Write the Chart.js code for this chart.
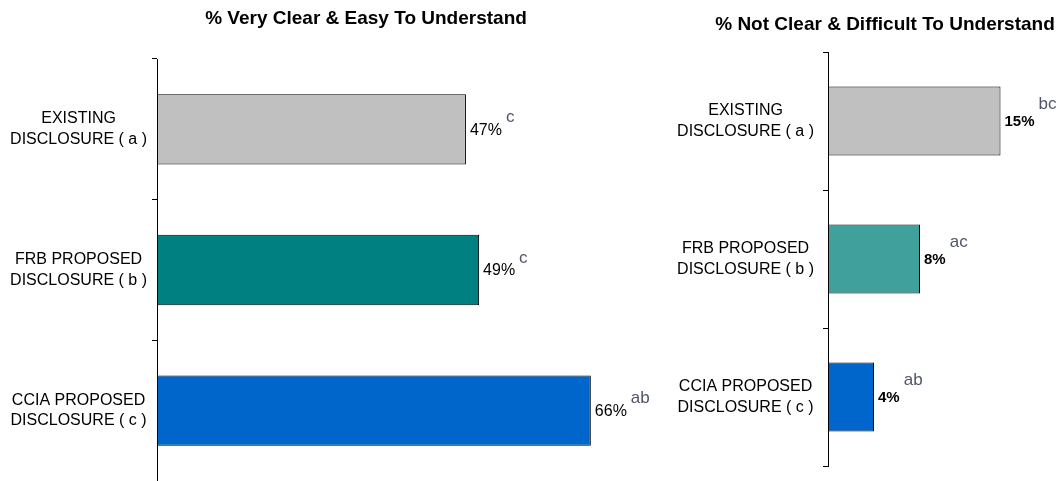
<!DOCTYPE html>
<html>
<head>
<meta charset="utf-8">
<script src="https://cdn.jsdelivr.net/npm/chart.js@4.4.1/dist/chart.umd.min.js"></script>
<style>
  body { margin: 0; background: #fff; }
  #wrap { position: relative; width: 1063px; height: 481px; }
  .box { position: absolute; top: 0; height: 481px; }
</style>
</head>
<body>
<div id="wrap">
  <div class="box" style="left:0;width:660px"><canvas id="clear_chart"></canvas></div>
  <div class="box" style="left:660px;width:403px"><canvas id="unclear_chart"></canvas></div>
</div>
<script>
let categories = [
  ['EXISTING', 'DISCLOSURE ( a )'],
  ['FRB PROPOSED', 'DISCLOSURE ( b )'],
  ['CCIA PROPOSED', 'DISCLOSURE ( c )']
];
let clearValues = [47, 49, 66];
let clearSig = ['c', 'c', 'ab'];
let unclearValues = [15, 8, 4];
let unclearSig = ['bc', 'ac', 'ab'];

let fontFamily = '"Liberation Sans", Arial, sans-serif';

// value label + significance letters next to each bar, and the panel title
let barLabels = {
  id: 'barLabels',
  afterDatasetsDraw(chart, args, opts) {
    let ctx = chart.ctx;
    let meta = chart.getDatasetMeta(0);
    ctx.save();
    meta.data.forEach((bar, i) => {
      let txt = chart.data.datasets[0].data[i] + '%';
      ctx.font = opts.valueFont + ' ' + fontFamily;
      ctx.fillStyle = '#000';
      ctx.textAlign = 'left';
      ctx.textBaseline = 'middle';
      let x = bar.x + 4;
      ctx.fillText(txt, x, bar.y + 1);
      let w = ctx.measureText(txt).width;
      ctx.font = '17px ' + fontFamily;
      ctx.fillStyle = '#4f5666';
      ctx.fillText(opts.sig[i], x + w + 4, bar.y + opts.sigDy);
    });
    ctx.font = 'bold 19px ' + fontFamily;
    ctx.fillStyle = '#000';
    ctx.textAlign = 'center';
    ctx.textBaseline = 'middle';
    ctx.fillText(opts.title, opts.titleX, opts.titleY);
    ctx.restore();
  }
};

function makeChart(id, values, sig, colors, opt) {
  return new Chart(document.getElementById(id).getContext('2d'), {
    type: 'bar',
    data: {
      labels: categories,
      datasets: [{
        data: values,
        backgroundColor: colors,
        borderColor: '#000',
        borderWidth: 1,
        borderSkipped: false,
        categoryPercentage: 1,
        barPercentage: 0.5
      }]
    },
    options: {
      indexAxis: 'y',
      responsive: true,
      maintainAspectRatio: false,
      animation: false,
      layout: { padding: { top: opt.top, bottom: opt.bottom, right: opt.right, left: 0 } },
      plugins: {
        legend: { display: false },
        tooltip: { enabled: false },
        barLabels: { sig: sig, sigDy: opt.sigDy, valueFont: opt.valueFont,
                     title: opt.title, titleX: opt.titleX, titleY: opt.titleY }
      },
      scales: {
        x: { display: false, min: 0, max: opt.max },
        y: {
          afterFit: (scale) => {
            scale.width = opt.axisX;
            scale.paddingTop = 0;
            scale.paddingBottom = 0;
          },
          border: { display: true, color: '#000', width: 1 },
          grid: { display: true, drawOnChartArea: false, drawTicks: true, tickLength: 5, color: '#000' },
          ticks: {
            color: '#000',
            crossAlign: 'center',
            padding: opt.pad,
            font: { family: fontFamily, size: 16, lineHeight: 1.3 }
          }
        }
      }
    },
    plugins: [barLabels]
  });
}

makeChart('clear_chart', clearValues, clearSig, ['#C0C0C0', '#008080', '#0066CC'],
  { max: 75, top: 59, right: 10, bottom: 0, axisX: 157, pad: 5, valueFont: '16px', sigDy: -12,
    title: '% Very Clear & Easy To Understand', titleX: 366, titleY: 19 });

makeChart('unclear_chart', unclearValues, unclearSig, ['#C0C0C0', '#40A09C', '#0066CC'],
  { max: 20, top: 52, right: 5, bottom: 15, axisX: 168, pad: 9, valueFont: 'bold 15px', sigDy: -17,
    title: '% Not Clear & Difficult To Understand', titleX: 225, titleY: 25 });
</script>
</body>
</html>
